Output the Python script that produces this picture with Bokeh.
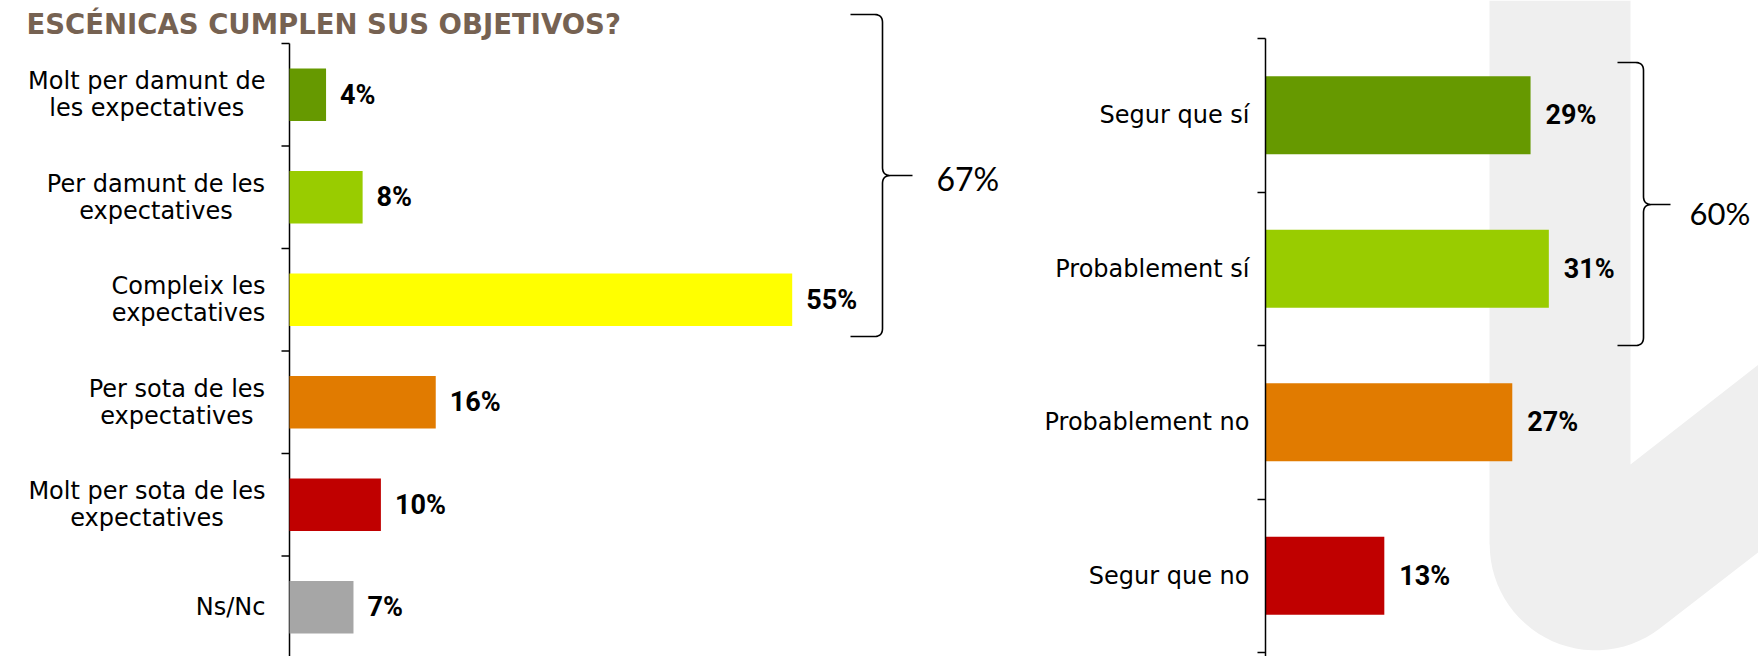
import numpy as np
from bokeh.plotting import figure
from bokeh.models import Range1d, FixedTicker, Label, ColumnDataSource
from bokeh.layouts import row
from bokeh.embed import file_html
from bokeh.resources import INLINE
from bokeh.core.properties import value

# ---------------- data ----------------
title_text = "ESCÉNICAS CUMPLEN SUS OBJETIVOS?"

left_categories = [
    "Molt per damunt de\nles expectatives",
    "Per damunt de les\nexpectatives",
    "Compleix les\nexpectatives",
    "Per sota de les\nexpectatives",
    "Molt per sota de les\nexpectatives",
    "Ns/Nc",
]
left_values = [4, 8, 55, 16, 10, 7]
left_colors = ["#669900", "#99CC00", "#FFFF00", "#E17B00", "#C00000", "#A6A6A6"]
left_group_label = "67%"

right_categories = ["Segur que sí", "Probablement sí", "Probablement no", "Segur que no"]
right_values = [29, 31, 27, 13]
right_colors = ["#669900", "#99CC00", "#E17B00", "#C00000"]
right_group_label = "60%"

# ---------------- layout constants (canvas pixels) ----------------
W, H = 1758, 656
PX = 9.14            # pixels per percent
SPLIT = 1005
L_AXIS_X, L_TOP, L_STEP = 289, 43, 102.5
R_AXIS_X, R_TOP, R_STEP = 1265, 38, 153.5

LABEL_FONT = "DejaVu Sans"
LABEL_SIZE = 24
VALUE_FONT = "Roboto"
VALUE_SIZE = "27px"

# approximate DejaVu Sans advance widths (em) used to centre the lines of a label block
EM = {" ": .318, "a": .613, "b": .635, "c": .550, "d": .635, "e": .615, "g": .635,
      "i": .278, "l": .278, "m": .974, "n": .634, "o": .612, "p": .635, "q": .635,
      "r": .411, "s": .521, "t": .392, "u": .634, "v": .592, "x": .592, "í": .278,
      "M": .863, "P": .603, "C": .698, "N": .748, "S": .635, "/": .337}


def text_w(s):
    return sum(EM.get(ch, .6) for ch in s) * LABEL_SIZE


def lmap(px, py):
    return (px - L_AXIS_X) / PX, (py - L_TOP) / L_STEP - 0.5


def rmap(px, py):
    return (px - R_AXIS_X) / PX, (py - R_TOP) / R_STEP - 0.5


def quad(p0, p1, p2, n=10):
    out = []
    for t in np.linspace(0, 1, n):
        x = (1 - t) ** 2 * p0[0] + 2 * (1 - t) * t * p1[0] + t ** 2 * p2[0]
        y = (1 - t) ** 2 * p0[1] + 2 * (1 - t) * t * p1[1] + t ** 2 * p2[1]
        out.append((x, y))
    return out


def brace_path(xv, top, bottom, mid, hook, tip, r=8):
    pts = [(hook, top)]
    pts += quad((xv - r, top), (xv, top), (xv, top + r))
    pts += quad((xv, mid - r), (xv, mid), (xv + r, mid))
    pts += [(tip, mid)]
    pts += quad((xv + r, mid), (xv, mid), (xv, mid + r))
    pts += quad((xv, bottom - r), (xv, bottom), (xv - r, bottom))
    pts += [(hook, bottom)]
    return pts


def clean(p):
    p.xgrid.visible = False
    p.ygrid.visible = False
    p.outline_line_color = None
    p.background_fill_color = "white"
    p.border_fill_color = "white"


# ---------------- left figure (axis drawn inside the frame) ----------------
lx0, ly_top = lmap(0, 0)
lx1, ly_bot = lmap(SPLIT, H)
pL = figure(
    width=SPLIT, height=H,
    x_range=Range1d(lx0, lx1), y_range=Range1d(ly_bot, ly_top),
    output_backend="svg", toolbar_location=None,
    min_border_left=0, min_border_right=0, min_border_top=0, min_border_bottom=0,
)
clean(pL)
pL.xaxis.visible = False
pL.yaxis.visible = False

nL = len(left_categories)
# axis line and boundary ticks
pL.segment(x0=[0], y0=[-0.5], x1=[0], y1=[ly_bot], line_color="black", line_width=1.5)
bounds = [i - 0.5 for i in range(nL + 1)]
pL.segment(x0=[-8 / PX] * len(bounds), y0=bounds, x1=[0] * len(bounds), y1=bounds,
           line_color="black", line_width=1.5)

# category labels: block right-aligned near the axis, lines centred in the block
lab_x, lab_y, lab_t = [], [], []
LINE_H = 27
for i, cat in enumerate(left_categories):
    lines = cat.split("\n")
    bw = max(text_w(s) for s in lines)
    cx_px = L_AXIS_X - 24 - bw / 2
    for j, s in enumerate(lines):
        off = (j - (len(lines) - 1) / 2) * LINE_H
        lab_x.append((cx_px - L_AXIS_X) / PX)
        lab_y.append(i + off / L_STEP)
        lab_t.append(s)
pL.text(x=lab_x, y=lab_y, text=lab_t, text_align="center", text_baseline="middle",
        text_font=value(LABEL_FONT), text_font_size=f"{LABEL_SIZE}px", text_color="black")

srcL = ColumnDataSource(dict(
    y=list(range(nL)), value=left_values, color=left_colors,
    label=[f"{v}%" for v in left_values],
))
pL.hbar(y="y", left=0, right="value", height=0.51, fill_color="color",
        line_color=None, source=srcL)
pL.text(x="value", y="y", text="label", source=srcL, x_offset=14,
        text_baseline="middle", text_align="left",
        text_font=value(VALUE_FONT), text_font_style="bold",
        text_font_size=VALUE_SIZE, text_color="black")

bl = [lmap(x, y) for x, y in brace_path(882, 14, 336, 175, 850, 912)]
pL.line([a for a, b in bl], [b for a, b in bl], line_color="black", line_width=1.6)
tx, ty = lmap(936, 178)
pL.add_layout(Label(x=tx, y=ty, text=left_group_label, text_font="Lato",
                    text_font_size="32px", text_baseline="middle", text_align="left",
                    text_color="black"))

ttx, tty = lmap(26, 23)
pL.add_layout(Label(x=ttx, y=tty, text=title_text, text_font="DejaVu Sans",
                    text_font_style="bold", text_font_size="27.5px",
                    text_baseline="alphabetic", text_align="left",
                    text_color="#766252"))

# ---------------- right figure ----------------
_, ry_top = rmap(W, 0)
rx1, ry_bot = rmap(W, H)
pR = figure(
    width=W - SPLIT, height=H,
    x_range=Range1d(0, rx1), y_range=Range1d(ry_bot, ry_top),
    output_backend="svg", toolbar_location=None,
    min_border_left=R_AXIS_X - SPLIT, min_border_right=0,
    min_border_top=0, min_border_bottom=0,
)
clean(pR)
pR.xaxis.visible = False
nR = len(right_categories)
ax = pR.yaxis[0]
ax.ticker = FixedTicker(ticks=list(range(nR)), minor_ticks=[i - 0.5 for i in range(nR + 1)])
ax.major_label_overrides = {i: c for i, c in enumerate(right_categories)}
ax.major_tick_line_color = None
ax.major_tick_out = 0
ax.major_tick_in = 0
ax.minor_tick_line_color = "black"
ax.minor_tick_line_width = 1.5
ax.minor_tick_out = 8
ax.minor_tick_in = 0
ax.axis_line_color = "black"
ax.axis_line_width = 1.5
ax.bounds = (-0.5, ry_bot)
ax.major_label_standoff = 8
ax.major_label_text_font = LABEL_FONT
ax.major_label_text_font_size = f"{LABEL_SIZE}px"
ax.major_label_text_color = "black"

# decorative background shape
cx, cy, R = 1595, 544, 105.8
theta = np.radians(np.linspace(180, 52.4, 30))
shape = [(1489, 0), (1489, cy)]
shape += [(cx + R * np.cos(t), cy + R * np.sin(t)) for t in theta]
shape += [(1790, 527), (1790, 339), (1630, 464), (1630, 0)]
sh = [rmap(x, y) for x, y in shape]
pR.patch([a for a, b in sh], [b for a, b in sh], fill_color="#EFEFEF",
         line_color=None, level="underlay")

srcR = ColumnDataSource(dict(
    y=list(range(nR)), value=right_values, color=right_colors,
    label=[f"{v}%" for v in right_values],
))
pR.hbar(y="y", left=0, right="value", height=0.508, fill_color="color",
        line_color=None, source=srcR)
pR.text(x="value", y="y", text="label", source=srcR, x_offset=15,
        text_baseline="middle", text_align="left",
        text_font=value(VALUE_FONT), text_font_style="bold",
        text_font_size=VALUE_SIZE, text_color="black")

br = [rmap(x, y) for x, y in brace_path(1643, 62, 345, 204, 1617, 1670)]
pR.line([a for a, b in br], [b for a, b in br], line_color="black", line_width=1.6)
tx, ty = rmap(1689, 212)
pR.add_layout(Label(x=tx, y=ty, text=right_group_label, text_font="Lato",
                    text_font_size="31px", text_baseline="middle", text_align="left",
                    text_color="black"))

layout = row(pL, pR)
open("out.html", "w").write(file_html(layout, INLINE))
